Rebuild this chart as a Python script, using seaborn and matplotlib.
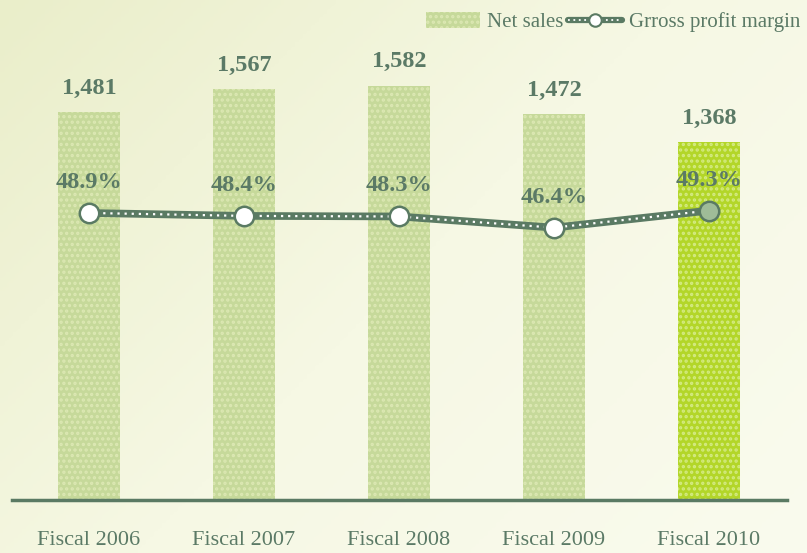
import numpy as np
import pandas as pd
import matplotlib
matplotlib.use("Agg")
import matplotlib.pyplot as plt
import seaborn as sns
from matplotlib.lines import Line2D
from matplotlib.patches import Patch
from matplotlib.legend_handler import HandlerTuple
from matplotlib.colors import LinearSegmentedColormap

categories = ["Fiscal 2006", "Fiscal 2007", "Fiscal 2008", "Fiscal 2009", "Fiscal 2010"]
net_sales = [1481, 1567, 1582, 1472, 1368]
sales_labels = ["1,481", "1,567", "1,582", "1,472", "1,368"]
gross_margin = [48.9, 48.4, 48.3, 46.4, 49.3]
margin_labels = ["48.9%", "48.4%", "48.3%", "46.4%", "49.3%"]

sns.set_theme(style="white")
plt.rcParams["font.family"] = ["Liberation Serif", "DejaVu Serif"]
plt.rcParams["hatch.linewidth"] = 1.6

DARK = "#5a7a63"
TXT = "#5b7a66"

fig = plt.figure(figsize=(8.07, 5.53), dpi=100)

# background gradient
bg = fig.add_axes([0, 0, 1, 1], zorder=-10)
xx, yy = np.meshgrid(np.linspace(0, 1, 200), np.linspace(0, 1, 200))
grad = 0.6 * xx + 0.4 * yy
cmap = LinearSegmentedColormap.from_list("bg", ["#eaeeca", "#f6f8e4", "#fafbee"])
bg.imshow(grad, cmap=cmap, aspect="auto", extent=[0, 1, 0, 1], origin="upper")
bg.axis("off")

ax = fig.add_axes([11.5 / 807, 53 / 553, 775 / 807, 480 / 553])
ax.set_facecolor("none")

df = pd.DataFrame({"cat": categories, "sales": net_sales})
bar_colors = ["#c6d99a", "#c6d99a", "#c6d99a", "#c6d99a", "#b3d629"]
dot_colors = ["#dce8b3", "#dce8b3", "#dce8b3", "#dce8b3", "#d4ea82"]
sns.barplot(data=df, x="cat", y="sales", hue="cat", palette=bar_colors,
            width=0.4, legend=False, ax=ax, saturation=1)
for p, dc in zip(ax.patches, dot_colors):
    p.set_hatch("...")
    p.set_edgecolor(dc)
    p.set_linewidth(0)

ax.set_ylim(0, 480 / 0.262)
ax.set_xlim(-0.5, 4.5)
for i, (v, lab) in enumerate(zip(net_sales, sales_labels)):
    ax.annotate(lab, (i, v), xytext=(0, 17), textcoords="offset points",
                ha="center", va="center", fontsize=17.5, fontweight="bold", color=TXT)

ax.set_xlabel("")
ax.set_ylabel("")
ax.set_yticks([])
ax.tick_params(axis="x", length=0, pad=22, labelsize=16, labelcolor=TXT)
for s in ["top", "right", "left"]:
    ax.spines[s].set_visible(False)
ax.spines["bottom"].set_color(DARK)
ax.spines["bottom"].set_linewidth(2.5)

ax2 = ax.twinx()
ax2.set_ylim(0, 480 / 5.87)
xs = np.arange(len(gross_margin))
sns.lineplot(x=xs, y=gross_margin, ax=ax2, color=DARK, linewidth=5.5, zorder=3)
ax2.plot(xs, gross_margin, color="white", linewidth=1.6, linestyle=(0, (1, 2.2)), zorder=4)
face = ["white"] * 4 + ["#9fbc98"]
for x, y, fc in zip(xs, gross_margin, face):
    ax2.plot([x], [y], marker="o", markersize=14, markerfacecolor=fc,
             markeredgecolor=DARK, markeredgewidth=1.8, zorder=5, linestyle="none")
for x, y, lab in zip(xs, gross_margin, margin_labels):
    ax2.annotate(lab, (x, y), xytext=(0, 22), textcoords="offset points",
                 ha="center", va="center", fontsize=17.5, fontweight="bold", color=TXT)
ax2.set_yticks([])
for s in ax2.spines.values():
    s.set_visible(False)
ax2.set_xlim(-0.5, 4.5)

h_bar = Patch(facecolor="#c6d99a", edgecolor="#dce8b3", hatch="...", linewidth=0)
h_l1 = Line2D([], [], color=DARK, linewidth=4.5)
h_l2 = Line2D([], [], color="white", linewidth=1.3, linestyle=(0, (1, 2)),
              marker="o", markersize=9, markerfacecolor="white",
              markeredgecolor=DARK, markeredgewidth=1.5)
fig.legend([h_bar, (h_l1, h_l2)], ["Net sales", "Grross profit margin"],
           handler_map={tuple: HandlerTuple(ndivide=1)},
           loc="upper right", bbox_to_anchor=(1.015, 1.012), ncol=2, frameon=False,
           fontsize=15, labelcolor=TXT, handlelength=2.6, handleheight=0.8,
           columnspacing=0.2, handletextpad=0.35)

fig.savefig("out.png", dpi=100)
